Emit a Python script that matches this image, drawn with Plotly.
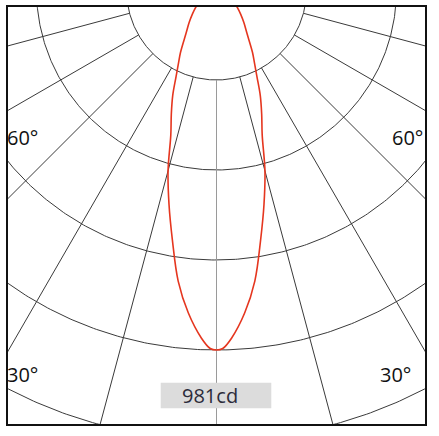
import numpy as np
import plotly.graph_objects as go

# ---- data ----
peak_label = "981cd"
angles_deg = [0, 1, 2.5, 5, 7.5, 10, 12.5, 15, 17.5, 20, 22.5, 25, 27.5, 30, 35, 40, 45, 50, 55, 60, 70, 80, 90]
intensity_cd = [981, 977, 949, 883, 800, 692, 598, 510, 414, 360, 312, 261, 224, 196, 145, 116, 93, 74, 59, 44, 25, 10, 0]
ring_cd = [245.25, 490.5, 735.75, 981, 1226.25]
ray_deg = [15, 30, 45, 60, 75]
angle_labels = ["60°", "30°"]

# ---- geometry ----
W, H = 439, 436
ML, MR, MT, MB = 7, 13, 6, 11
CX, CY = 216.5, -10.0          # pixel position of polar origin
k = ring_cd[3] / 360.0          # cd per pixel
x_range = [(ML - CX) * k, (W - MR - CX) * k]
y_range = [-((H - MB) - CY) * k, -(MT - CY) * k]

def pol(r, a_deg):
    a = np.radians(a_deg)
    return r * np.sin(a), -r * np.cos(a)

fig = go.Figure()
grid = "#3a3a3a"

# rings
t = np.linspace(-90, 90, 361)
for rc in ring_cd:
    x, y = pol(rc, t)
    fig.add_trace(go.Scatter(x=x, y=y, mode="lines", line=dict(color=grid, width=1),
                             hoverinfo="skip", showlegend=False))
# rays
for a in ray_deg:
    for s in (-1, 1):
        x, y = pol(np.array([ring_cd[0], 3000]), s * a)
        fig.add_trace(go.Scatter(x=x, y=y, mode="lines", line=dict(color=grid, width=1),
                                 hoverinfo="skip", showlegend=False))
# vertical axis
x, y = pol(np.array([ring_cd[0], 3000]), 0)
fig.add_trace(go.Scatter(x=x, y=y, mode="lines", line=dict(color="#9a9a9a", width=1),
                         hoverinfo="skip", showlegend=False))

# intensity curve (symmetric)
ang = np.array([-a for a in angles_deg[::-1]] + angles_deg[1:])
val = np.array(intensity_cd[::-1] + intensity_cd[1:])
cx, cy = pol(val, ang)
fig.add_trace(go.Scatter(x=cx, y=cy, mode="lines", line=dict(color="#e5361f", width=1.6, shape="spline"),
                         hoverinfo="skip", showlegend=False))

PW, PH = W - ML - MR, H - MT - MB
def px2paper(xp, yp):
    return (xp - ML) / PW, ((H - MB) - yp) / PH

shapes = []
# label box
x0, y0 = px2paper(160.7, 408.3)
x1, y1 = px2paper(271.3, 382.7)
shapes.append(dict(type="rect", xref="paper", yref="paper", x0=x0, y0=y0, x1=x1, y1=y1,
                   fillcolor="#dcdcdc", line=dict(width=0), layer="above"))
# frame
shapes.append(dict(type="rect", xref="paper", yref="paper", x0=0, y0=0, x1=1, y1=1,
                   line=dict(color="#111111", width=2), layer="above"))

font = dict(family="Open Sans, DejaVu Sans, sans-serif", size=20, color="#111111")
ann = []
for lab, yp in zip(angle_labels, [137.5, 374.7]):
    xa, ya = px2paper(7.0, yp)
    ann.append(dict(x=xa, y=ya, xref="paper", yref="paper", text=lab, showarrow=False,
                    xanchor="left", yanchor="middle", font=font, xshift=-2))
for lab, xp, yp in zip(angle_labels, [422.5, 411.0], [137.5, 374.7]):
    xa, ya = px2paper(xp, yp)
    ann.append(dict(x=xa, y=ya, xref="paper", yref="paper", text=lab, showarrow=False,
                    xanchor="right", yanchor="middle", font=font, xshift=2))
xa, ya = px2paper(209.5, 395.5)
ann.append(dict(x=xa, y=ya, xref="paper", yref="paper", text=peak_label, showarrow=False,
                xanchor="center", yanchor="middle",
                font=dict(family="Open Sans, DejaVu Sans, sans-serif", size=20, color="#2b2b3a")))

fig.update_layout(
    width=W, height=H, margin=dict(l=ML, r=MR, t=MT, b=MB),
    paper_bgcolor="white", plot_bgcolor="white",
    xaxis=dict(range=x_range, visible=False, fixedrange=True),
    yaxis=dict(range=y_range, visible=False, fixedrange=True),
    shapes=shapes, annotations=ann, showlegend=False,
)
fig.write_html("out.html", config={"displayModeBar": False},
               post_script="document.body.style.margin='0px';document.body.style.overflow='hidden';")
